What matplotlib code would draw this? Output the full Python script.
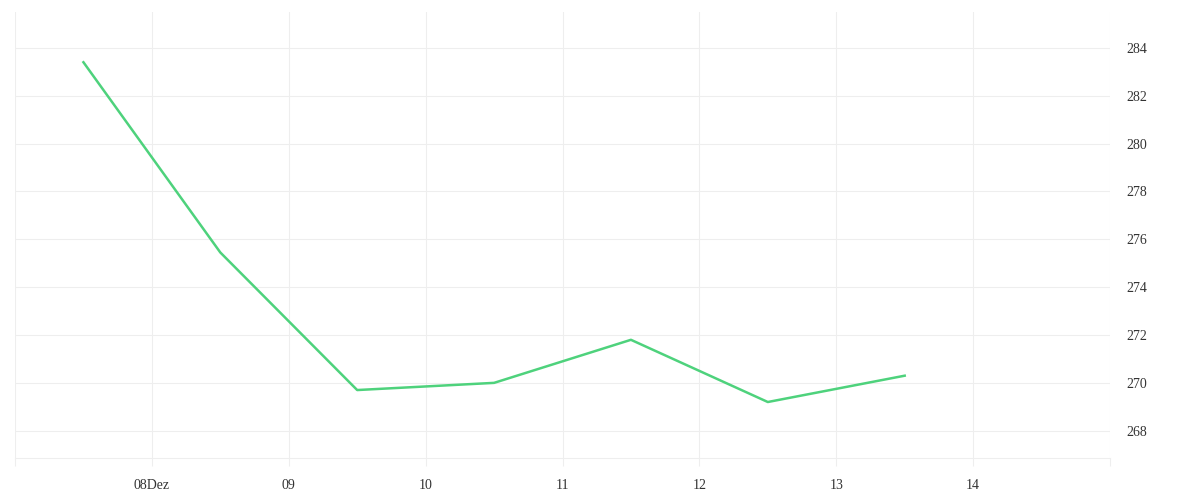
import datetime as dt
import matplotlib
matplotlib.use('Agg')
from matplotlib import pyplot as plt
import matplotlib.dates as mdates

# values (one point per day at noon)
tage = [dt.datetime(2021, 12, d, 12) for d in range(7, 14)]
werte = [283.4, 275.45, 269.7, 270.0, 271.8, 269.2, 270.3]

tick_tage = [dt.datetime(2021, 12, d) for d in range(7, 16)]
tick_labels = ['', '08Dez', '09', '10', '11', '12', '13', '14', '']
y_ticks = [268, 270, 272, 274, 276, 278, 280, 282, 284]

grid = '#eeeeee'
schrift = dict(family='Liberation Serif', size=10, color='#333333')

fig = plt.figure(figsize=(12, 5), dpi=100)
ax = fig.add_axes([0.0125, 0.084, 0.9125, 0.892])

ax.plot(tage, werte, color='#4ed27c', linewidth=1.8, solid_joinstyle='round')

ax.set_xlim(tick_tage[0], tick_tage[-1])
ax.set_ylim(266.86, 285.5)

ax.set_xticks(tick_tage)
ax.set_xticklabels(tick_labels, **schrift)
ax.set_yticks(y_ticks)
ax.set_yticklabels([str(v) for v in y_ticks], **schrift)
ax.yaxis.tick_right()

ax.grid(True, color=grid, linewidth=0.8)
ax.set_axisbelow(True)
ax.tick_params(axis='x', length=6, color=grid, width=0.8, pad=9)
ax.tick_params(axis='y', length=0, pad=12)

for s in ['top', 'left', 'right']:
    ax.spines[s].set_visible(False)
ax.spines['bottom'].set_color(grid)
ax.spines['bottom'].set_linewidth(0.8)

fig.savefig('out.png', dpi=100, facecolor='white')
